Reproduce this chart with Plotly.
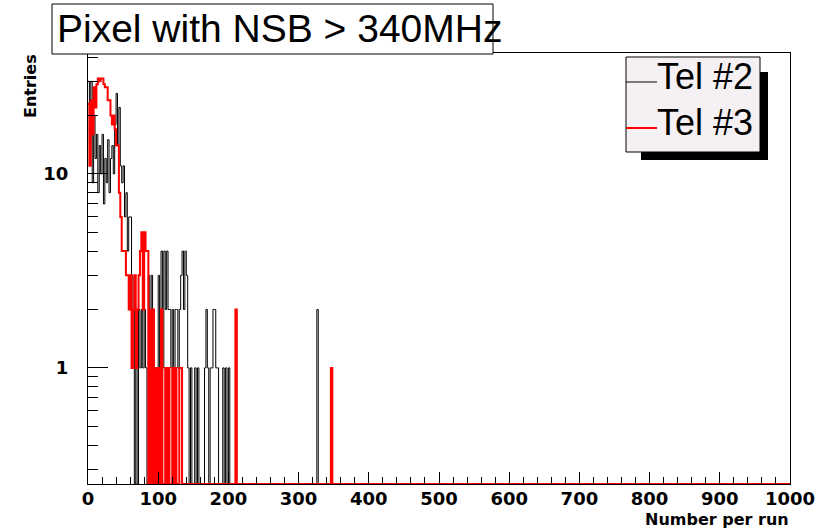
import numpy as np
import plotly.graph_objects as go

# ---------------- data ----------------
BIN_WIDTH = 2          # histogram bin width (Number per run)
X_MAX = 1000
Y_MIN, Y_MAX = 0.252, 42.0

# Tel #2 counts per bin (bin k covers [2k, 2k+2)), remaining bins are empty
tel2_counts = [
    30, 14, 30, 9, 20, 12, 16, 8, 14, 10,
    16, 7, 12, 9, 15, 8, 12, 14, 10, 18,
    26, 14, 22, 11, 9, 11, 6, 8, 4, 6,
    6, 3, 2, 0, 1, 0, 2, 1, 2, 1,
    2, 1, 0, 3, 2, 3, 1, 0, 0, 1,
    3, 1, 4, 1, 4, 2, 4, 2, 2, 1,
    2, 1, 2, 2, 1, 2, 3, 4, 2, 4,
    3, 1, 0, 1, 0, 0, 1, 0, 1, 0,
    0, 0, 0, 1, 2, 1, 0, 1, 1, 2,
    2, 1, 1, 0, 0, 0, 1, 0, 1, 0,
    1, 0, 0, 0, 0, 0, 0, 0, 0, 0,
    0, 0, 0, 0, 0, 0, 0, 0, 0, 0,
    0, 0, 0, 0, 0, 0, 0, 0, 0, 0,
    0, 0, 0, 0, 0, 0, 0, 0, 0, 0,
    0, 0, 0, 0, 0, 0, 0, 0, 0, 0,
    0, 0, 0, 0, 0, 0, 0, 0, 0, 0,
    0, 0, 0, 2, 0,
]

# Tel #3 counts per bin
tel3_counts = [
    23, 11, 24, 16, 28, 22, 29, 31, 30, 31,
    31, 29, 28, 28, 24, 24, 20, 18, 20, 17,
    14, 14, 8, 6, 4, 4, 4, 3, 3, 2,
    3, 1, 2, 3, 1, 2, 3, 4, 5, 2,
    5, 4, 4, 0, 2, 0, 2, 0, 1, 0,
    1, 0, 2, 0, 0, 1, 0, 1, 0, 0,
    1, 0, 1, 0, 0, 1, 1, 0, 0, 0,
    0, 0, 0, 0, 0, 0, 0, 0, 0, 0,
    0, 0, 0, 0, 0, 0, 0, 0, 0, 0,
    0, 0, 0, 0, 0, 0, 0, 0, 0, 0,
    0, 0, 0, 0, 0, 2, 0, 0, 0, 0,
    0, 0, 0, 0, 0, 0, 0, 0, 0, 0,
    0, 0, 0, 0, 0, 0, 0, 0, 0, 0,
    0, 0, 0, 0, 0, 0, 0, 0, 0, 0,
    0, 0, 0, 0, 0, 0, 0, 0, 0, 0,
    0, 0, 0, 0, 0, 0, 0, 0, 0, 0,
    0, 0, 0, 0, 0, 0, 0, 0, 0, 0,
    0, 0, 0, 1, 0,
]

series_names = ["Tel #2", "Tel #3"]
series_colors = ["#000000", "#ff0000"]
series_widths = [1, 2]

x_tick_vals = list(range(0, 1001, 100))
y_tick_vals = [1, 10]
y_tick_text = ["1", "10"]
y_minor_vals = [0.3, 0.4, 0.5, 0.6, 0.7, 0.8, 0.9, 2, 3, 4, 5, 6, 7, 8, 9, 20, 30, 40]

TITLE = "Pixel with NSB > 340MHz"
X_TITLE = "Number per run"
Y_TITLE = "Entries"

# ---------------- layout geometry ----------------
W, H = 818, 529
L, R, T, B = 88, 28, 53, 45
PW, PH = W - L - R, H - T - B


def px(x):
    return (x - L) / PW


def py(y):
    return (H - B - y) / PH


def step_trace(counts, name, color, width):
    n_bins = X_MAX // BIN_WIDTH
    full = list(counts) + [0] * (n_bins - len(counts))
    edges = np.arange(n_bins + 1) * BIN_WIDTH
    vals = [c if c > 0 else Y_MIN for c in full]
    vals = vals + [vals[-1]]
    return go.Scatter(x=edges, y=vals, mode="lines", line_shape="hv",
                      line=dict(color=color, width=width), name=name,
                      showlegend=False, hoverinfo="skip")


fig = go.Figure()
fig.add_trace(step_trace(tel2_counts, series_names[0], series_colors[0], series_widths[0]))
fig.add_trace(step_trace(tel3_counts, series_names[1], series_colors[1], series_widths[1]))

tick_font = dict(family="DejaVu Sans", size=18, color="black", weight="bold")

fig.update_layout(
    width=W, height=H,
    margin=dict(l=L, r=R, t=T, b=B, pad=0, autoexpand=False),
    paper_bgcolor="white", plot_bgcolor="white",
    showlegend=False,
    xaxis=dict(range=[0, X_MAX], showgrid=False, zeroline=False, automargin=False,
               showline=True, linecolor="black", linewidth=1, mirror=True,
               ticks="inside", ticklen=12, tickcolor="black", tickwidth=1,
               tickmode="array", tickvals=x_tick_vals,
               ticktext=[str(v) for v in x_tick_vals],
               minor=dict(ticks="inside", ticklen=7, dtick=20, tickcolor="black"),
               tickfont=tick_font, ticklabelstandoff=-2),
    yaxis=dict(type="log", range=[np.log10(Y_MIN), np.log10(Y_MAX)],
               showgrid=False, zeroline=False, automargin=False,
               showline=True, linecolor="black", linewidth=1, mirror=True,
               ticks="inside", ticklen=20, tickcolor="black", tickwidth=1,
               tickmode="array", tickvals=y_tick_vals, ticktext=y_tick_text,
               minor=dict(ticks="inside", ticklen=10, tickmode="array",
                          tickvals=y_minor_vals, tickcolor="black"),
               tickfont=tick_font, ticklabelstandoff=15),
)

shapes = []
annotations = []

# title box
shapes.append(dict(type="rect", xref="paper", yref="paper",
                   x0=px(52), x1=px(493), y0=py(54), y1=py(4),
                   line=dict(color="black", width=1), fillcolor="white", layer="above"))
annotations.append(dict(text=TITLE, xref="paper", yref="paper",
                        x=px(55), y=py(29), xanchor="left", yanchor="middle",
                        showarrow=False,
                        font=dict(family="Liberation Sans", size=39, color="black")))

# legend shadow + box
shapes.append(dict(type="rect", xref="paper", yref="paper",
                   x0=px(641), x1=px(768), y0=py(160), y1=py(72),
                   line=dict(width=0), fillcolor="black", layer="above"))
shapes.append(dict(type="rect", xref="paper", yref="paper",
                   x0=px(626), x1=px(760), y0=py(152), y1=py(57),
                   line=dict(color="black", width=1), fillcolor="#f5f0f3", layer="above"))
legend_rows = [(82, 76), (128, 122)]
for (ly, ty), name, color, width in zip(legend_rows, series_names, series_colors, series_widths):
    shapes.append(dict(type="line", xref="paper", yref="paper",
                       x0=px(626), x1=px(657), y0=py(ly), y1=py(ly),
                       line=dict(color=color, width=width), layer="above"))
    annotations.append(dict(text=name, xref="paper", yref="paper",
                            x=px(655), y=py(ty), xanchor="left", yanchor="middle",
                            showarrow=False,
                            font=dict(family="Liberation Sans", size=36, color="black")))

# axis titles
annotations.append(dict(text=X_TITLE, xref="paper", yref="paper",
                        x=px(791), y=py(519), xanchor="right", yanchor="middle",
                        showarrow=False,
                        font=dict(family="DejaVu Sans", size=16, color="black", weight="bold")))
annotations.append(dict(text=Y_TITLE, xref="paper", yref="paper",
                        x=px(30), y=py(52), xanchor="center", yanchor="top",
                        textangle=-90, showarrow=False,
                        font=dict(family="DejaVu Sans", size=16, color="black", weight="bold")))

fig.update_layout(shapes=shapes, annotations=annotations)

fig.write_html("out.html", config={"displayModeBar": False},
               post_script="document.body.style.margin='0';document.body.style.overflow='hidden';")
